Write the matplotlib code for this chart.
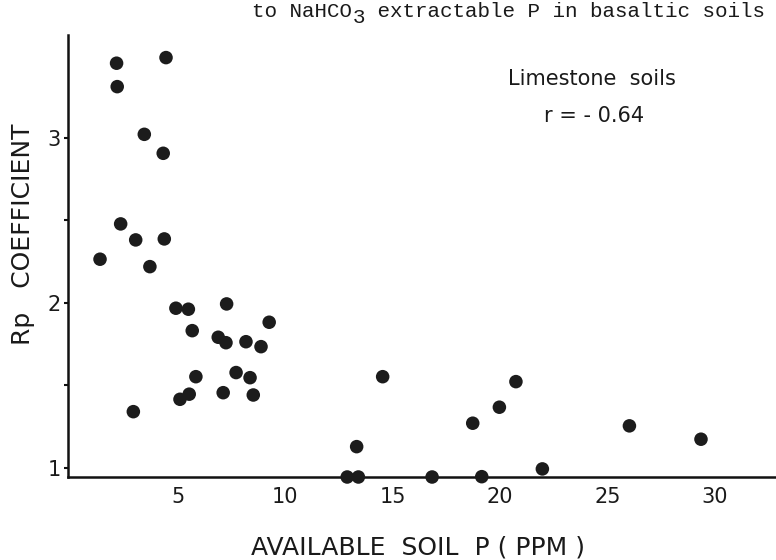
import matplotlib
matplotlib.use("Agg")
import matplotlib.pyplot as plt
from matplotlib.ticker import FixedLocator

# ---- data ----
soil_p = [2.16, 4.46, 2.19, 3.45, 4.33, 2.35, 3.05, 4.38, 1.39, 3.71,
          4.92, 5.50, 7.28, 5.68, 9.26, 6.89, 7.25, 8.18, 8.88, 5.85,
          7.72, 8.37, 5.11, 5.54, 7.12, 8.52, 2.94, 14.54, 13.33, 12.89,
          13.41, 16.84, 18.73, 19.15, 19.97, 20.74, 21.97, 26.02, 29.35]
rp_coef = [3.453, 3.487, 3.311, 3.022, 2.907, 2.479, 2.382, 2.388, 2.265, 2.220,
           1.968, 1.962, 1.994, 1.832, 1.883, 1.792, 1.759, 1.765, 1.735, 1.553,
           1.578, 1.547, 1.416, 1.447, 1.456, 1.442, 1.341, 1.553, 1.129, 0.945,
           0.945, 0.945, 1.271, 0.947, 1.368, 1.523, 0.994, 1.255, 1.174]

x_ticks = [5, 10, 15, 20, 25, 30]
y_ticks = [1, 2, 3]
y_minor = [1.5, 2.5]

title_parts = ["to NaHCO", "3", " extractable P in basaltic soils"]
annot_1 = "Limestone  soils"
annot_2 = "r = - 0.64"
x_label = "AVAILABLE  SOIL  P ( PPM )"
y_label = "Rp   COEFFICIENT"

W, H = 776, 560
fig = plt.figure(figsize=(W / 100, H / 100), dpi=100)
ax = fig.add_axes([68 / W, 1 - 477 / H, 1 - 68 / W, (477 - 35) / H])

ax.scatter(soil_p, rp_coef, s=95, color="#1c1c1c", edgecolors="none",
           zorder=3, clip_on=False)

ax.set_xlim(-0.1, 32.84)
ax.set_ylim(0.945, 3.624)

for s in ["top", "right"]:
    ax.spines[s].set_visible(False)
for s in ["left", "bottom"]:
    ax.spines[s].set_linewidth(1.8)
    ax.spines[s].set_color("#111111")

tick_font = dict(family="DejaVu Sans", size=15)
ax.set_xticks(x_ticks)
ax.set_xticklabels([str(v) for v in x_ticks], fontdict=tick_font, color="#1a1a1a")
ax.set_yticks(y_ticks)
ax.set_yticklabels([str(v) for v in y_ticks], fontdict=tick_font, color="#1a1a1a")
ax.yaxis.set_minor_locator(FixedLocator(y_minor))
ax.tick_params(axis="x", length=0, pad=7)
ax.tick_params(axis="y", which="both", direction="out", length=3, width=1.5,
               pad=2, color="#111111")

fig.text(418 / W, 1 - 548 / H, x_label, ha="center", va="center",
         family="DejaVu Sans", fontsize=18, color="#1a1a1a")
fig.text(23 / W, 1 - 234 / H, y_label, ha="center", va="center", rotation=90,
         family="DejaVu Sans", fontsize=18, color="#1a1a1a")

ax.text(592 / W, 1 - 79 / H, annot_1, transform=fig.transFigure, ha="center",
        va="center", family="DejaVu Sans", fontsize=15, color="#1a1a1a")
ax.text(594 / W, 1 - 116 / H, annot_2, transform=fig.transFigure, ha="center",
        va="center", family="DejaVu Sans", fontsize=15, color="#1a1a1a")

# title (typewriter font) along the top edge
tsize = 15.0
cw = 0.6 * tsize * 100 / 72  # monospace advance in px
x0 = 765 - 41 * cw
base = 17
fig.text(x0 / W, 1 - base / H, title_parts[0], ha="left", va="baseline",
         family="Liberation Mono", fontsize=tsize, color="#1a1a1a")
fig.text((x0 + len(title_parts[0]) * cw) / W, 1 - (base + 6) / H, title_parts[1],
         ha="left", va="baseline", family="Liberation Mono", fontsize=tsize,
         color="#1a1a1a")
fig.text((x0 + (len(title_parts[0]) + 1) * cw) / W, 1 - base / H, title_parts[2],
         ha="left", va="baseline", family="Liberation Mono", fontsize=tsize,
         color="#1a1a1a")

fig.savefig("out.png", dpi=100)
